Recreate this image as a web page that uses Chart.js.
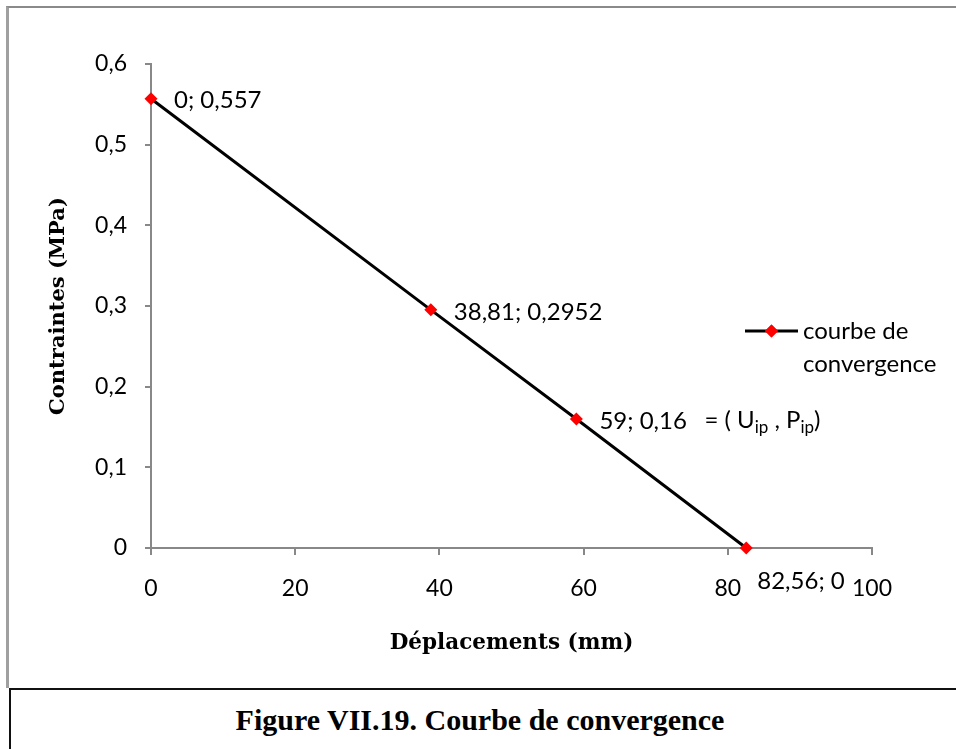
<!DOCTYPE html>
<html>
<head>
<meta charset="utf-8">
<script src="https://cdn.jsdelivr.net/npm/chart.js@4.4.1/dist/chart.umd.min.js"></script>
<style>
    body { margin: 0; background: #fff; width: 956px; height: 749px; overflow: hidden; position: relative; }
    #frame { position: absolute; left: 6px; top: 6px; width: 1000px; height: 682px; border-left: 3px solid #a0a0a0; border-top: 2px solid #8a8a8a; box-sizing: border-box; }
    #chart { position: absolute; left: 0; top: 0; }
    #caption { position: absolute; left: 9px; top: 688px; width: 1000px; height: 100px; border-left: 2px solid #111; border-top: 2px solid #111; box-sizing: border-box; }
    #caption span { position: absolute; left: 0; width: 938px; top: 13px; text-align: center; font: bold 30px "Liberation Serif", "Times New Roman", serif; color: #000; }
</style>
</head>
<body>
<div id="frame"></div>
<canvas id="chart" width="956" height="688"></canvas>
<div id="caption"><span>Figure VII.19. Courbe de convergence</span></div>

<script>
// --- Data ---
const deplacements = [0, 38.81, 59, 82.56];     // mm
const contraintes = [0.557, 0.2952, 0.16, 0];   // MPa
const xTicks = [0, 20, 40, 60, 80, 100];
const yTicks = [0, 0.1, 0.2, 0.3, 0.4, 0.5, 0.6];
const seriesName = ["courbe de", "convergence"];

const sans = 'Lato, "Open Sans", sans-serif';
const labelFont = '24px ' + sans;
const comma = v => String(v).replace('.', ',');

// data labels "x; y" next to each point + the (Uip, Pip) note
const pointLabels = {
    id: 'pointLabels',
    afterDatasetsDraw(chart) {
        const ctx = chart.ctx;
        const meta = chart.getDatasetMeta(0);
        ctx.save();
        ctx.font = labelFont;
        ctx.fillStyle = '#000';
        ctx.textBaseline = 'middle';
        meta.data.forEach((pt, i) => {
            const txt = comma(deplacements[i]) + '; ' + comma(contraintes[i]);
            if (contraintes[i] === 0) {
                ctx.fillText(txt, pt.x + 11, pt.y + 33);
            } else {
                ctx.fillText(txt, pt.x + 23, pt.y + 2);
            }
        });

        // = ( Uip , Pip) next to the third point
        const p = meta.data[2];
        let x = p.x + 128;
        const y = p.y + 1;
        const sub = '17px ' + sans;
        const parts = [['= ( U', labelFont, 0], ['ip', sub, 8], [' , P', labelFont, 0], ['ip', sub, 8], [')', labelFont, 0]];
        parts.forEach(([t, f, dy]) => {
            ctx.font = f;
            ctx.fillText(t, x, y + dy);
            x += ctx.measureText(t).width;
        });
        ctx.restore();
    }
};

// legend drawn by hand so the name can wrap over two lines
const sideLegend = {
    id: 'sideLegend',
    afterDraw(chart) {
        const ctx = chart.ctx;
        const ds = chart.data.datasets[0];
        const x0 = 745, x1 = 798, y = 331;
        ctx.save();
        ctx.strokeStyle = ds.borderColor;
        ctx.lineWidth = ds.borderWidth;
        ctx.beginPath();
        ctx.moveTo(x0, y);
        ctx.lineTo(x1, y);
        ctx.stroke();
        Chart.helpers.drawPoint(ctx, { pointStyle: 'rectRot', radius: ds.pointRadius, borderWidth: 0 }, (x0 + x1) / 2, y);
        ctx.fillStyle = ds.pointBackgroundColor;
        ctx.fill();
        ctx.font = labelFont;
        ctx.fillStyle = '#000';
        ctx.textBaseline = 'middle';
        seriesName.forEach((s, i) => ctx.fillText(s, x1 + 5, y + i * 33));
        ctx.restore();
    }
};

new Chart(document.getElementById('chart'), {
    type: 'scatter',
    data: {
        datasets: [{
            label: seriesName.join(' '),
            data: deplacements.map((d, i) => ({ x: d, y: contraintes[i] })),
            showLine: true,
            borderColor: '#000',
            borderWidth: 3,
            pointStyle: 'rectRot',
            pointRadius: 6.5,
            pointBackgroundColor: '#ff0000',
            pointBorderColor: '#ff0000',
            pointBorderWidth: 0,
            clip: false
        }]
    },
    options: {
        responsive: false,
        animation: false,
        layout: { padding: { left: 0, top: 64, right: 84, bottom: 0 } },
        plugins: { legend: { display: false }, tooltip: { enabled: false } },
        scales: {
            x: {
                type: 'linear',
                min: 0, max: 100,
                afterFit: s => { s.height = 140; },
                afterBuildTicks: s => { s.ticks = xTicks.map(v => ({ value: v })); },
                grid: { drawOnChartArea: false, color: '#888', lineWidth: 2, tickLength: 7 },
                border: { color: '#888', width: 2 },
                ticks: { color: '#000', font: { family: sans, size: 23 }, padding: 20, maxRotation: 0 },
                title: {
                    display: true,
                    text: 'Déplacements (mm)',
                    color: '#000',
                    font: { family: '"DejaVu Serif", serif', size: 21.5, weight: 'bold' },
                    padding: { bottom: 32 }
                }
            },
            y: {
                type: 'linear',
                min: 0, max: 0.6,
                afterFit: s => { s.width = 151; },
                afterBuildTicks: s => { s.ticks = yTicks.map(v => ({ value: v })); },
                grid: { drawOnChartArea: false, color: '#888', lineWidth: 2, tickLength: 6 },
                border: { color: '#888', width: 2 },
                ticks: {
                    color: '#000',
                    font: { family: sans, size: 23 },
                    padding: 18,
                    callback: v => v === 0 ? '0' : comma(v.toFixed(1))
                },
                title: {
                    display: true,
                    text: 'Contraintes (MPa)',
                    color: '#000',
                    font: { family: '"DejaVu Serif", serif', size: 21, weight: 'bold' },
                    padding: { top: 46 }
                }
            }
        }
    },
    plugins: [pointLabels, sideLegend]
});
</script>
</body>
</html>
